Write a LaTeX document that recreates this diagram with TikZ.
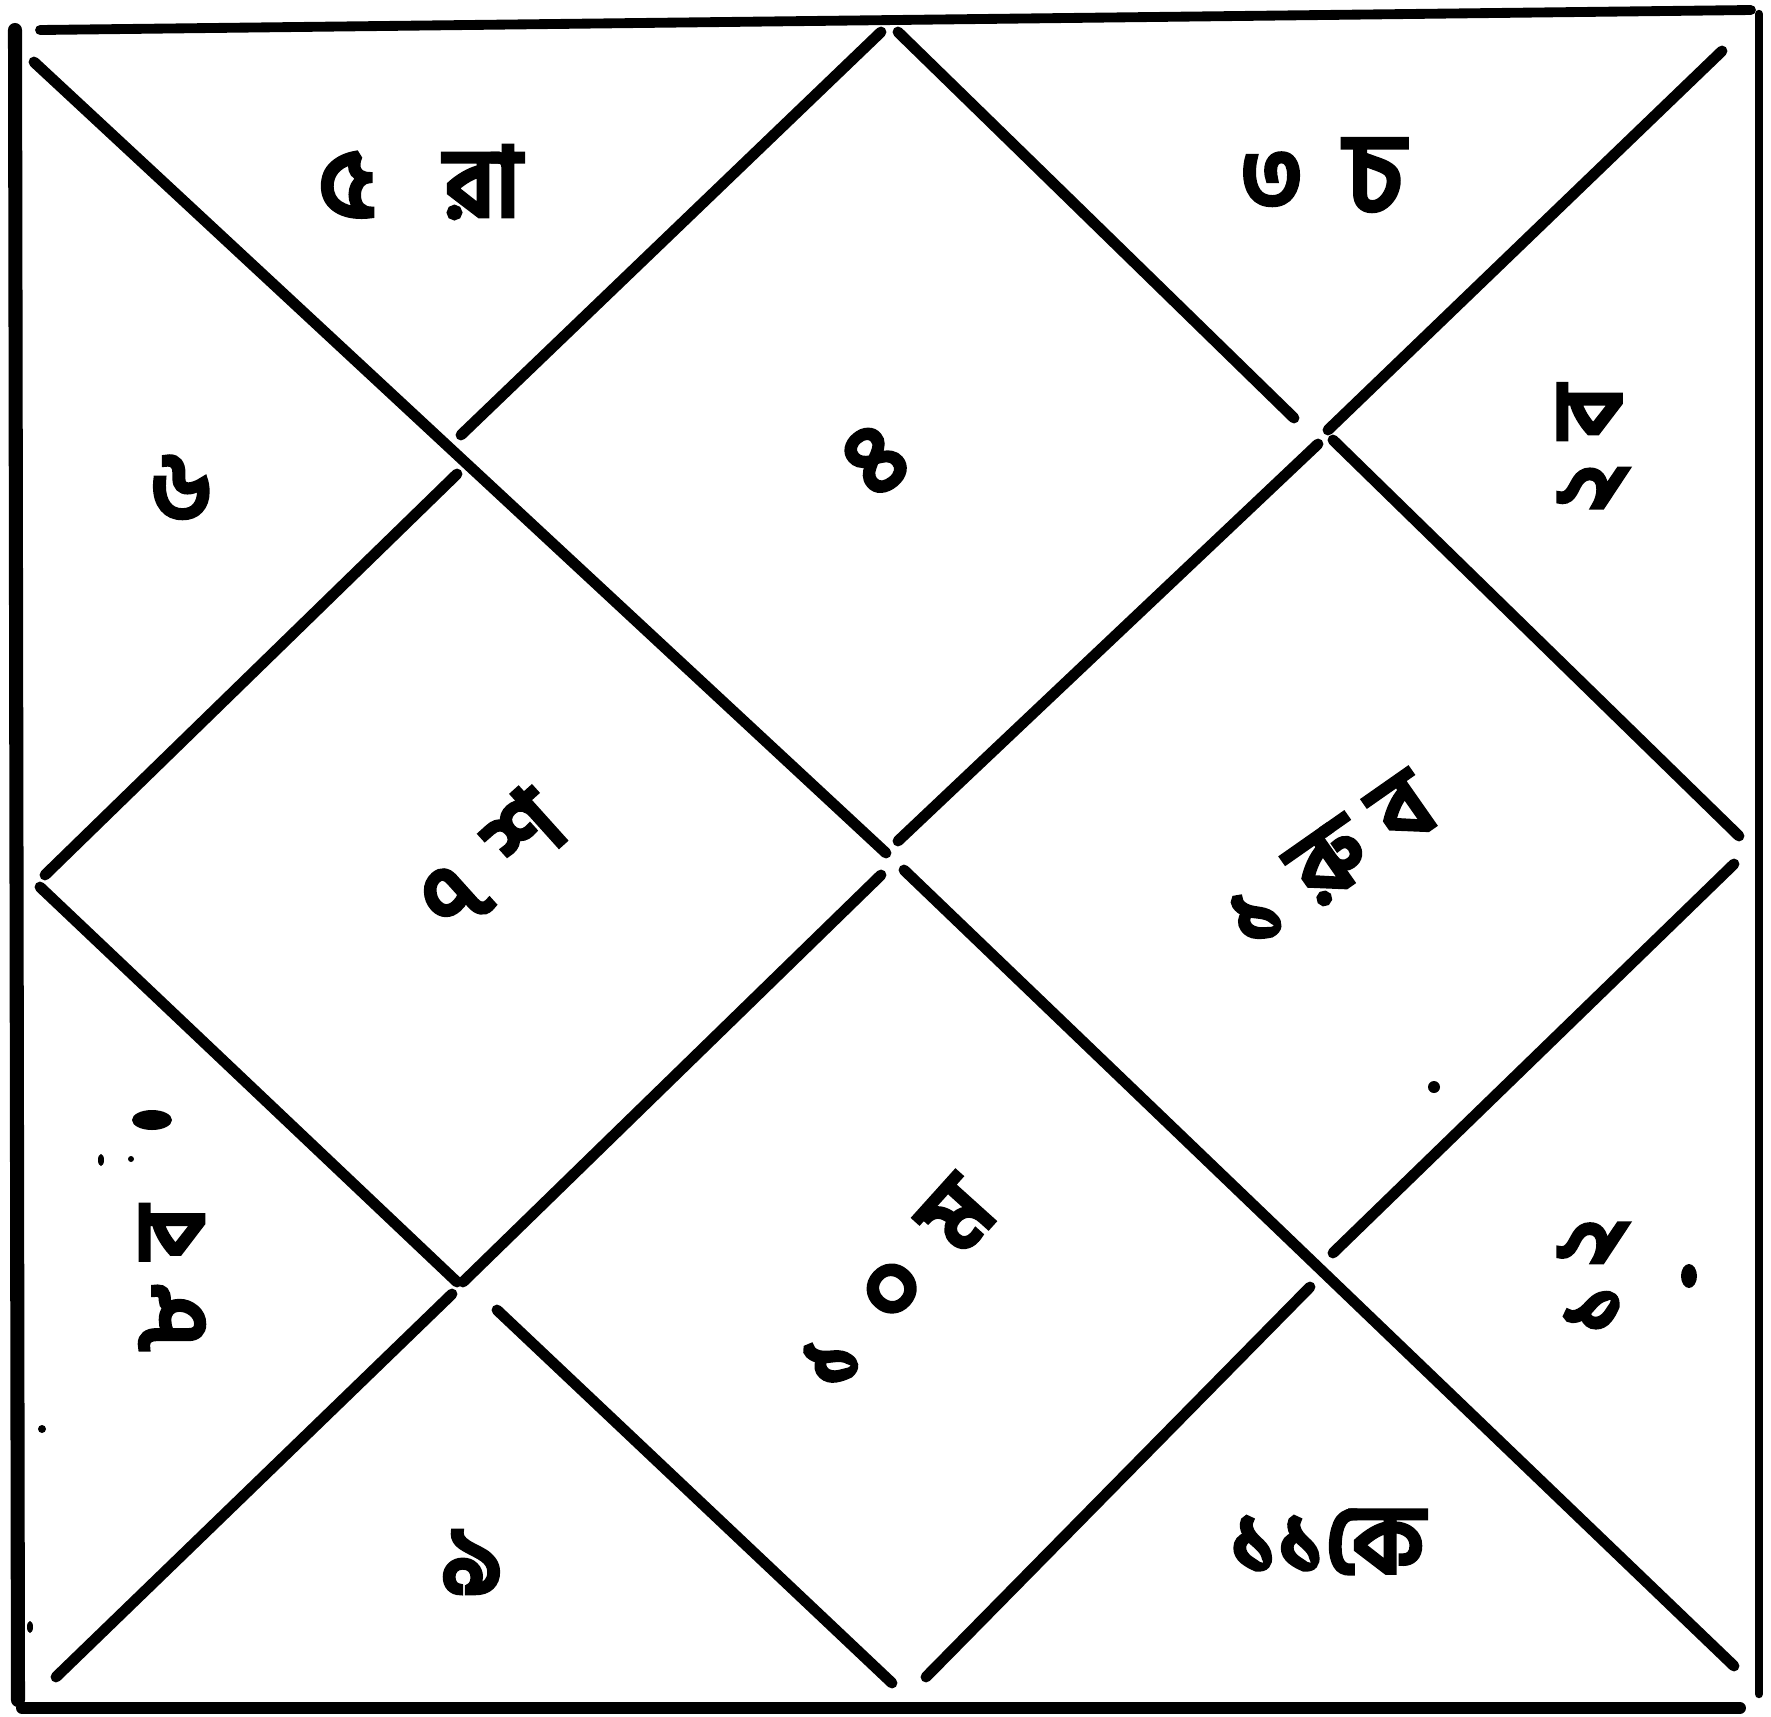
\documentclass[tikz,border=0pt]{standalone}
\usepackage{fontspec}
\newfontfamily\bn[Script=Bengali]{Hind Siliguri}
\newcommand\heavytxt[1]{\special{pdf:literal direct 2 Tr 1.6 w}#1\special{pdf:literal direct 0 Tr}}
\begin{document}
\begin{tikzpicture}[x=0.01cm,y=-0.01cm,
  ln/.style={line width=3.1pt, line cap=round},
  fr/.style={line width=3pt, line cap=round},
  lbl/.style={font=\bn\fontsize{27}{30}\selectfont, inner sep=0pt},
  speck/.style={fill=black, draw=none}]
\useasboundingbox[fill=white] (0,0) rectangle (1771,1717);
% frame
\coordinate (ftl) at (15,30); \coordinate (fbl) at (18,1700);
\coordinate (ftl2) at (40,30); \coordinate (ftr) at (1751,10);
\coordinate (frt) at (1759,14); \coordinate (frb) at (1759,1694);
\coordinate (fb1) at (22,1708); \coordinate (fb2) at (1740,1708);
\draw[fr, line width=4pt] (ftl) -- (fbl);
\draw[fr, line width=2.8pt] (ftl2) -- (ftr);
\draw[fr, line width=2.4pt] (frt) -- (frb);
\draw[fr, line width=3.4pt] (fb1) -- (fb2);
% main diagonals
\coordinate (d1a) at (34,62); \coordinate (d1b) at (886,853);
\coordinate (d1c) at (904,870); \coordinate (d1d) at (1734,1666);
\draw[ln] (d1a) -- (d1b);
\draw[ln] (d1c) -- (d1d);
\coordinate (a1a) at (1722,51); \coordinate (a1b) at (1328,430);
\coordinate (a1c) at (1318,444); \coordinate (a1d) at (898,841);
\coordinate (a1e) at (881,875); \coordinate (a1f) at (463,1282);
\coordinate (a1g) at (452,1294); \coordinate (a1h) at (56,1677);
\draw[ln] (a1a) -- (a1b);
\draw[ln] (a1c) -- (a1d);
\draw[ln] (a1e) -- (a1f);
\draw[ln] (a1g) -- (a1h);
% inner diamond
\coordinate (t1) at (881,32); \coordinate (t2) at (461,435);
\coordinate (t3) at (457,474); \coordinate (t4) at (45,875);
\draw[ln] (t1) -- (t2); \draw[ln] (t3) -- (t4);
\coordinate (r1) at (898,32); \coordinate (r2) at (1294,418);
\coordinate (r3) at (1333,440); \coordinate (r4) at (1739,836);
\draw[ln] (r1) -- (r2); \draw[ln] (r3) -- (r4);
\coordinate (l1) at (40,887); \coordinate (l2) at (457,1282);
\coordinate (l3) at (497,1310); \coordinate (l4) at (892,1683);
\draw[ln] (l1) -- (l2); \draw[ln] (l3) -- (l4);
\coordinate (b1) at (1734,864); \coordinate (b2) at (1333,1253);
\coordinate (b3) at (1310,1287); \coordinate (b4) at (926,1677);
\draw[ln] (b1) -- (b2); \draw[ln] (b3) -- (b4);
% labels
\node[lbl] (h5) at (420,182) {\heavytxt{৫\hspace{0.75em}রা}};
\node[lbl] (h3) at (1322,175) {\heavytxt{৩\hspace{0.45em}{\fontsize{31}{34}\selectfont চ}}};
\node[lbl] (h6) at (181,488) {\heavytxt{৬}};
\node[lbl, rotate=40] (h4) at (875,460) {\heavytxt{৪}};
\node[lbl, rotate=90] (h2) at (1593,449) {\heavytxt{২\hspace{0.3em}ব}};
\node[lbl, rotate=42] (h7) at (491,861) {\heavytxt{৭\hspace{0.4em}শ}};
\node[lbl, rotate=35] (h1) at (1330,862) {\heavytxt{১\hspace{0.35em}রু\hspace{0.3em}ব}};
\node[lbl, rotate=90] (h8) at (172,1279) {\heavytxt{৮\hspace{0.3em}ব}};
\node[lbl, rotate=48] (h10) at (895,1285) {\heavytxt{১\hspace{0.45em}০\hspace{0.45em}ম}};
\node[lbl, rotate=90] (h12) at (1593,1276) {\heavytxt{১\hspace{0.2em}২}};
\node[lbl] (h9) at (472,1562) {\heavytxt{৯}};
\node[lbl] (h11) at (1327,1542) {\heavytxt{১১কে}};
% specks
\fill[speck] (1434,1087) circle (6);
\fill[speck] (1689,1276) ellipse (8 and 12);
\fill[speck] (42,1429) circle (4);
\fill[speck] (30,1627) ellipse (3 and 6);
\fill[speck] (152,1120) ellipse (20 and 10);
\fill[speck] (101,1160) ellipse (3 and 6);
\fill[speck] (131,1159) circle (3);
\end{tikzpicture}
\end{document}
